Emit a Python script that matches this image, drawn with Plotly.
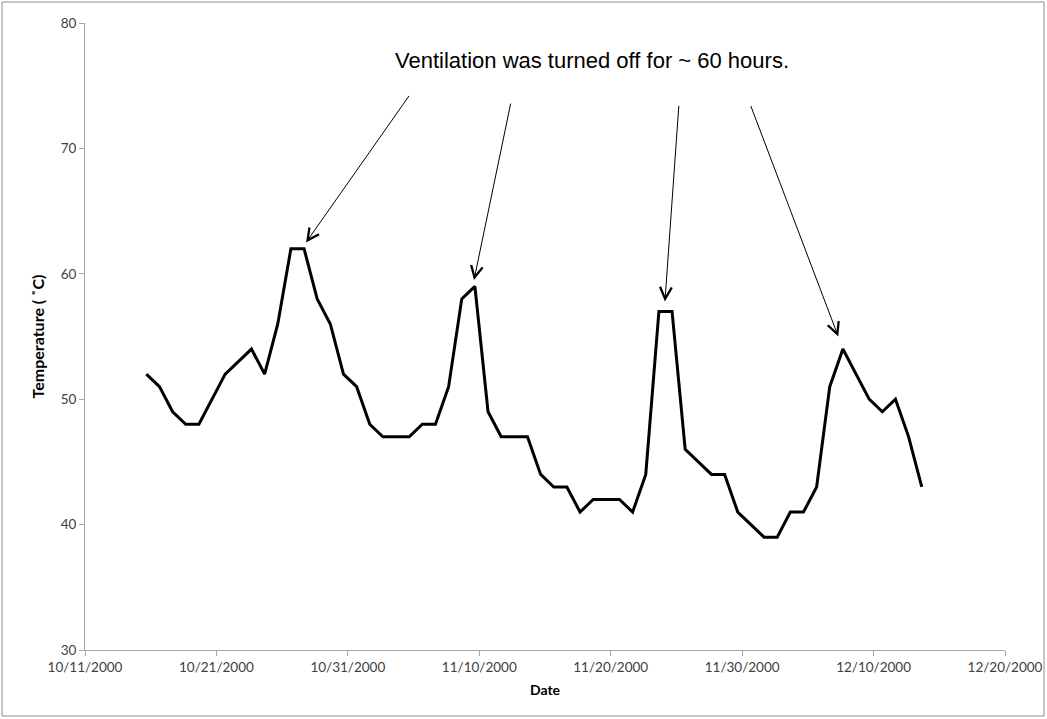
import plotly.graph_objects as go

dates = [
    "2000-10-15 16:00", "2000-10-16 16:00", "2000-10-17 16:00", "2000-10-18 16:00",
    "2000-10-19 16:00", "2000-10-20 16:00", "2000-10-21 16:00", "2000-10-22 16:00",
    "2000-10-23 16:00", "2000-10-24 16:00", "2000-10-25 16:00", "2000-10-26 16:00",
    "2000-10-27 16:00", "2000-10-28 16:00", "2000-10-29 16:00", "2000-10-30 16:00",
    "2000-10-31 16:00", "2000-11-01 16:00", "2000-11-02 16:00", "2000-11-03 16:00",
    "2000-11-04 16:00", "2000-11-05 16:00", "2000-11-06 16:00", "2000-11-07 16:00",
    "2000-11-08 16:00", "2000-11-09 16:00", "2000-11-10 16:00", "2000-11-11 16:00",
    "2000-11-12 16:00", "2000-11-13 16:00", "2000-11-14 16:00", "2000-11-15 16:00",
    "2000-11-16 16:00", "2000-11-17 16:00", "2000-11-18 16:00", "2000-11-19 16:00",
    "2000-11-20 16:00", "2000-11-21 16:00", "2000-11-22 16:00", "2000-11-23 16:00",
    "2000-11-24 16:00", "2000-11-25 16:00", "2000-11-26 16:00", "2000-11-27 16:00",
    "2000-11-28 16:00", "2000-11-29 16:00", "2000-11-30 16:00", "2000-12-01 16:00",
    "2000-12-02 16:00", "2000-12-03 16:00", "2000-12-04 16:00", "2000-12-05 16:00",
    "2000-12-06 16:00", "2000-12-07 16:00", "2000-12-08 16:00", "2000-12-09 16:00",
    "2000-12-10 16:00", "2000-12-11 16:00", "2000-12-12 16:00", "2000-12-13 16:00",
]
temperature = [
    52, 51, 49, 48, 48, 50, 52, 53, 54, 52,
    56, 62, 62, 58, 56, 52, 51, 48, 47, 47,
    47, 48, 48, 51, 58, 59, 49, 47, 47, 47,
    44, 43, 43, 41, 42, 42, 42, 41, 44, 57,
    57, 46, 45, 44, 44, 41, 40, 39, 39, 41,
    41, 43, 51, 54, 52, 50, 49, 50, 47, 43,
]

tick_vals = ["2000-10-11", "2000-10-21", "2000-10-31", "2000-11-10",
             "2000-11-20", "2000-11-30", "2000-12-10", "2000-12-20"]
tick_text = ["10/11/2000", "10/21/2000", "10/31/2000", "11/10/2000",
             "11/20/2000", "11/30/2000", "12/10/2000", "12/20/2000"]

annotation_text = "Ventilation was turned off for ~ 60 hours."
arrow_tips_x = ["2000-10-27 19:40", "2000-11-09 14:20", "2000-11-24 03:00", "2000-12-07 07:30"]
arrow_tips_y = [62.5, 59.5, 57.8, 55.0]
arrow_ax = [104, 37, 14, -88]
arrow_ay = [-148, -178, -197, -232]

fig = go.Figure()
fig.add_trace(go.Scatter(
    x=dates, y=temperature, mode="lines",
    line=dict(color="black", width=3),
    showlegend=False, hoverinfo="x+y",
))

W, H = 1047, 719
ml, mr, mt, mb = 85, 42, 23, 69
pw, ph = W - ml - mr, H - mt - mb

annotations = []
for tx, ty, ax, ay in zip(arrow_tips_x, arrow_tips_y, arrow_ax, arrow_ay):
    annotations.append(dict(
        x=tx, y=ty, xref="x", yref="y", ax=ax, ay=ay, text="",
        showarrow=True, arrowhead=5, arrowsize=2.3, arrowwidth=1,
        arrowcolor="black", standoff=0,
    ))
annotations.append(dict(
    x=(592 - ml) / pw, y=(H - mb - 60) / ph, xref="paper", yref="paper",
    xanchor="center", yanchor="middle",
    text=annotation_text, showarrow=False,
    font=dict(family="Liberation Sans, Arial", size=22, color="black"),
))

fig.update_layout(
    width=W, height=H, autosize=False,
    margin=dict(l=ml, r=mr, t=mt, b=mb, pad=0, autoexpand=False),
    paper_bgcolor="white", plot_bgcolor="white",
    font=dict(family="Lato, Carlito, sans-serif", size=13, color="#404040"),
    annotations=annotations,
    shapes=[dict(
        type="rect", xref="paper", yref="paper",
        x0=(2 - ml) / pw, x1=(1044 - ml) / pw,
        y0=-(716 - (H - mb)) / ph, y1=(H - mb - 2) / ph,
        line=dict(color="#8c8c8c", width=1), fillcolor="rgba(0,0,0,0)",
    )],
    xaxis=dict(
        type="date", range=["2000-10-11", "2000-12-20"],
        tickvals=tick_vals, ticktext=tick_text, automargin=False,
        showgrid=False, zeroline=False,
        showline=True, linecolor="#a6a6a6", linewidth=1,
        ticks="outside", ticklen=5, tickcolor="#a6a6a6",
        tickfont=dict(size=13.5, color="#404040"),
        title=dict(text="<b>Date</b>", font=dict(size=14, color="black"), standoff=10),
    ),
    yaxis=dict(
        range=[30, 80], tickvals=[30, 40, 50, 60, 70, 80], automargin=False,
        showgrid=False, zeroline=False,
        showline=True, linecolor="#a6a6a6", linewidth=1,
        ticks="outside", ticklen=5, tickcolor="#a6a6a6",
        tickfont=dict(size=13.5, color="#404040"),
        title=dict(text="<b>Temperature ( ˚C)</b>", font=dict(size=16, color="black"), standoff=12),
    ),
)

fig.write_html("out.html", config={"displayModeBar": False},
               post_script="document.body.style.margin='0';")
